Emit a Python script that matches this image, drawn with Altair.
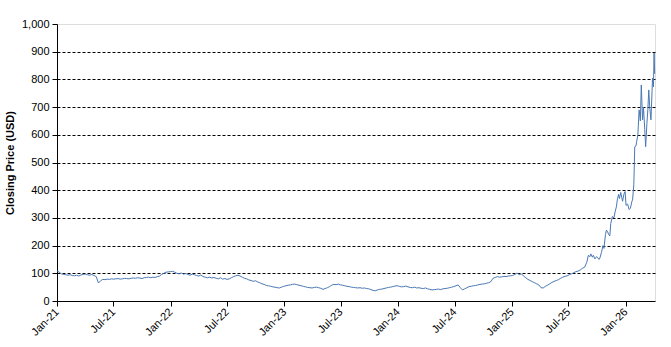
import altair as alt
import pandas as pd

# Weekly closing prices (Fridays), starting 2021-01-01
close_2021 = [109, 104, 98, 96, 95,
              93, 95, 92, 91,
              93, 90, 94, 96,
              97, 95, 93, 96, 92,
              88, 65, 73, 78,
              77, 79, 78, 80,
              79, 80, 81, 79, 80,
              82, 81, 80, 82,
              83, 82, 84, 83,
              81, 84, 85, 86, 84,
              86, 85, 88, 90,
              96, 100, 104, 105, 106]
close_2022 = [107, 104, 100, 98,
              101, 97, 99, 96,
              93, 97, 95, 92,
              90, 94, 88, 86, 84,
              86, 83, 85, 82,
              80, 84, 79, 81,
              78, 80, 84, 88, 91,
              93, 90, 86, 82,
              80, 76, 74, 71, 73,
              69, 66, 62, 60,
              56, 55, 53, 51,
              50, 48, 47, 50, 53]
close_2023 = [55, 57, 58, 60,
              61, 59, 57, 55,
              53, 51, 49, 48, 47,
              49, 50, 48, 46,
              42, 45, 48, 52,
              57, 60, 59, 61, 58,
              57, 55, 53, 52,
              50, 49, 48, 47,
              48, 46, 47, 45, 44,
              41, 38, 37, 40,
              42, 43, 45, 47,
              49, 50, 52, 54, 55]
close_2024 = [53, 51, 52, 54,
              51, 49, 48, 50,
              47, 48, 46, 45, 47,
              44, 42, 40, 41,
              42, 43, 41, 44, 45,
              46, 48, 50, 52,
              55, 58, 48, 40,
              44, 48, 52, 53, 55,
              56, 58, 60, 61,
              62, 64, 66, 70,
              82, 85, 88, 86, 87,
              89, 88, 90, 91]
close_2025 = [92, 96, 101, 95, 98,
              90, 84, 78, 74,
              70, 66, 62, 58,
              48, 47, 53, 57,
              62, 67, 71, 74, 77,
              82, 86, 89, 91,
              95, 98, 102, 106,
              108, 112, 118, 122, 140]

# Denser readings for the volatile final stretch
late_dates = ["2025-09-03", "2025-09-08", "2025-09-11", "2025-09-16", "2025-09-19",
              "2025-09-24", "2025-09-29", "2025-10-02", "2025-10-07", "2025-10-10",
              "2025-10-15", "2025-10-20", "2025-10-23", "2025-10-28", "2025-10-31",
              "2025-11-04", "2025-11-07", "2025-11-11", "2025-11-14", "2025-11-19",
              "2025-11-24", "2025-11-28", "2025-12-02", "2025-12-05", "2025-12-09",
              "2025-12-12", "2025-12-16", "2025-12-19", "2025-12-22", "2025-12-26",
              "2025-12-30", "2026-01-02", "2026-01-07", "2026-01-12", "2026-01-16",
              "2026-01-21", "2026-01-23", "2026-01-27", "2026-01-30", "2026-02-03",
              "2026-02-05", "2026-02-09", "2026-02-13", "2026-02-17", "2026-02-20",
              "2026-02-24", "2026-02-27", "2026-03-03", "2026-03-06", "2026-03-10",
              "2026-03-13", "2026-03-16", "2026-03-19", "2026-03-23", "2026-03-26",
              "2026-03-28", "2026-03-31", "2026-04-02", "2026-04-04"]
late_close = [165, 160, 170, 158, 165,
              152, 160, 158, 150, 155,
              175, 200, 190, 240, 256,
              250, 240, 235, 280, 305,
              300, 322, 340, 365, 385,
              370, 392, 375, 360, 385,
              395, 345, 350, 330, 335,
              360, 365, 420, 557, 560,
              575, 600, 690, 650, 780,
              654, 700, 620, 557, 640,
              690, 762, 700, 654, 740,
              805, 773, 895, 820]

weekly = close_2021 + close_2022 + close_2023 + close_2024 + close_2025
start = pd.Timestamp("2021-01-01")
dates = [start + pd.Timedelta(days=7 * i) for i in range(len(weekly))]
dates += [pd.Timestamp(d) for d in late_dates]
df = pd.DataFrame({"date": dates, "close": weekly + late_close})

x_ticks = [alt.DateTime(year=y, month=m, date=1)
           for y in range(2021, 2027) for m in (1, 7) if not (y == 2026 and m == 7)]
y_ticks = list(range(0, 1001, 100))

font = "Liberation Sans"

chart = alt.Chart(df).mark_line(color="#4a78b4", strokeWidth=1).encode(
    x=alt.X("date:T",
            scale=alt.Scale(domain=[alt.DateTime(year=2021, month=1, date=1),
                                    alt.DateTime(year=2026, month=4, date=5)]),
            axis=alt.Axis(values=x_ticks, format="%b-%y", labelAngle=-45,
                          labelAlign="right", labelBaseline="middle",
                          labelPadding=4, grid=False, title=None,
                          domainColor="black", tickColor="black", tickSize=5,
                          labelColor="black", labelFontSize=11, labelFont=font,
                          labelOverlap=False)),
    y=alt.Y("close:Q",
            scale=alt.Scale(domain=[0, 1000], nice=False),
            axis=alt.Axis(values=y_ticks, format=",d", title="Closing Price (USD)",
                          titleFont=font, titleFontSize=11, titleFontWeight="bold",
                          titleColor="black", titlePadding=6,
                          labelFont=font, labelFontSize=11, labelColor="black",
                          labelPadding=3,
                          domainColor="black", tickColor="black", tickSize=5,
                          grid=True, gridColor="black", gridDash=[3, 2],
                          gridOpacity={"condition": {"test": "datum.value === 0 || datum.value === 1000",
                                                     "value": 0}, "value": 1})),
).properties(
    width=598, height=277,
    autosize=alt.AutoSizeParams(type="none"),
    padding={"left": 57, "top": 24, "right": 16, "bottom": 46},
).configure_view(stroke="#808080", strokeWidth=1).configure(background="white")

chart.save("out.html", embed_options={"renderer": "svg", "actions": False})
